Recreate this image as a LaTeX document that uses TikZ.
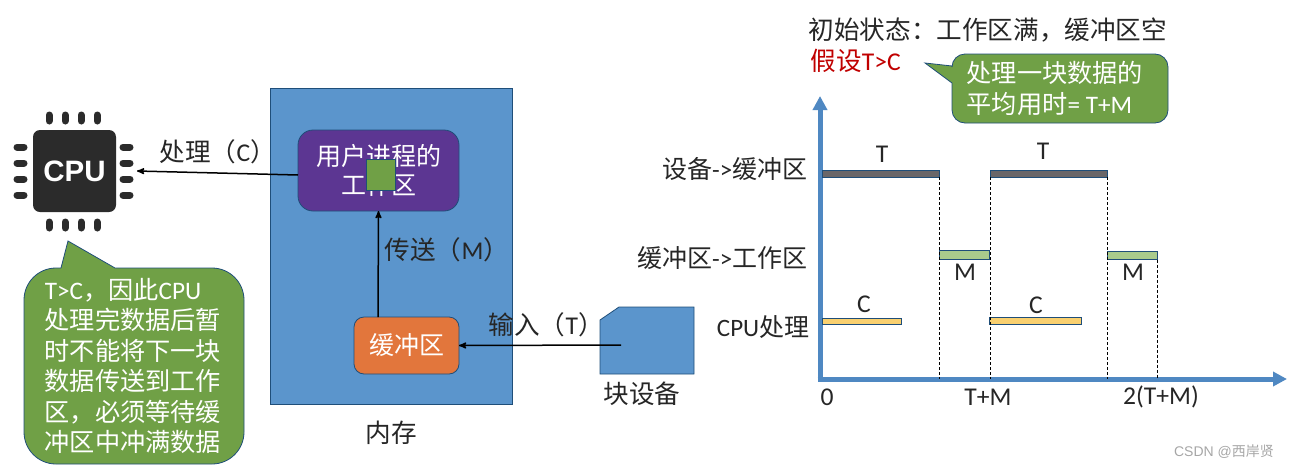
\documentclass[tikz,border=0pt]{standalone}
\usepackage{fontspec}
\setmainfont{Noto Sans CJK SC}
\newfontfamily\lat{Carlito}
\newfontfamily\chip[Scale=1]{Liberation Sans}
\usetikzlibrary{arrows,arrows.meta}

\definecolor{memblue}{HTML}{5B95CC}
\definecolor{edgeblue}{HTML}{1F4E79}
\definecolor{workpurple}{HTML}{5C3692}
\definecolor{bufforange}{HTML}{E2763C}
\definecolor{notegreen}{HTML}{70A046}
\definecolor{tgray}{HTML}{6A6668}
\definecolor{mgreen}{HTML}{A9CB8C}
\definecolor{cyellow}{HTML}{F9D06F}
\definecolor{chipdark}{HTML}{2B2B2B}
\definecolor{notered}{HTML}{C00000}
\definecolor{axisblue}{HTML}{4F88C2}

\tikzset{
	label25/.style={font=\fontsize{25.6}{30}\selectfont, text=black!85, inner sep=0pt},
	rowlabel/.style={font=\fontsize{25}{30}\selectfont, text=black!85, inner sep=0pt, anchor=east},
	block/.style={draw=edgeblue, line width=0.8pt, inner sep=0pt, outer sep=0pt},
	bar/.style={draw=edgeblue, line width=0.8pt, inner sep=0pt, outer sep=0pt},
	note/.style={draw=edgeblue, line width=0.8pt, fill=notegreen},
	notetext/.style={font=\fontsize{25.2}{30.5}\selectfont, text=white, align=left, inner sep=0pt},
	pin/.style={line width=7pt, line cap=round, color=chipdark},
	axis/.style={line width=5pt, color=axisblue, -{Triangle[width=14pt,length=14pt]}},
	guide/.style={densely dashed, line width=0.8pt}
}

\begin{document}
\begin{tikzpicture}[x=1pt, y=-1pt, >=stealth', line width=1.5pt]
	\useasboundingbox (0,0) rectangle (1289,469);

	% Nodes {memory, work, buffer, etc}
	\node [block, fill=memblue, minimum width=242, minimum height=316] 	(memory) 	at (391,246) 	{};
	\node [block, fill=workpurple, rounded corners=15, minimum width=161, minimum height=81, text=white, align=center,
		font=\fontsize{25}{29}\selectfont] 	(work) 	at (378.5,170.5) 	{用户进程的\\工作区};
	\node [block, fill=notegreen, minimum width=29, minimum height=31] 	(piece) 	at (380.5,174.5) 	{};
	\node [block, fill=bufforange, rounded corners=10, minimum width=105, minimum height=57, text=white,
		font=\fontsize{25}{30}\selectfont] 	(buffer) 	at (406.5,345.5) 	{缓冲区};
	\node [label25] 	(memlabel) 	at (391,433) 	{内存};

	% Block device
	\draw [block, fill=memblue] (600,320) -- (619,307) -- (694,307) -- (694,374) -- (600,374) -- cycle;
	\coordinate (device) at (621,345);
	\node [label25] 	(devlabel) 	at (642,394) 	{块设备};

	% CPU
	\node [fill=chipdark, rounded corners=7, minimum width=83, minimum height=82, inner sep=0pt, text=white,
		font=\fontsize{29.5}{30}\chip\bfseries] 	(cpu) 	at (74.5,171) 	{CPU};
	\foreach \x in {49,65,81,97} {
		\draw [pin] (\x,115) -- (\x,121);
		\draw [pin] (\x,222) -- (\x,228);
	}
	\foreach \y in {147,163,179,195} {
		\draw [pin] (17,\y) -- (24,\y);
		\draw [pin] (123,\y) -- (130,\y);
	}
	\coordinate (cpuin) at (137,171);

	% Paths
	\draw [->] 	(work.west |- 0,175) 	-- 	(cpuin);
	\draw [->] 	(buffer.north -| 378,0) 	-- 	(work.south);
	\draw [->] 	(device) 	-- 	(buffer.east);
	\node [label25, anchor=west] 	(clabel) 	at (159,152) 	{处理（{\lat C}）};
	\node [label25, anchor=west] 	(mlabel) 	at (384,250) 	{传送（{\lat M}）};
	\node [label25, anchor=west] 	(tlabel) 	at (488,325) 	{输入（{\lat T}）};

	% Left note
	\draw [note] (68,241) -- (115,268) [rounded corners=32] -- (244,268) -- (244,464) -- (24,464) -- (24,268) [sharp corners] -- (61,268) -- cycle;
	\node [notetext, anchor=west] 	(cpunote) 	at (44,366) 	{{\lat T>C}，因此{\lat CPU}\\处理完数据后暂\\时不能将下一块\\数据传送到工作\\区，必须等待缓\\冲区中冲满数据};

	% Title and top note
	\node [label25, anchor=west] 	(title) 	at (808,30) 	{初始状态：工作区满，缓冲区空};
	\node [label25, anchor=west, text=notered] 	(assume) 	at (810,61) 	{假设{\lat T>C}};
	\draw [note] (925,63) -- (952,66) [rounded corners=13] -- (952,54) -- (1168,54) -- (1168,123) -- (952,123) [sharp corners] -- (952,83) -- cycle;
	\node [notetext, anchor=west] 	(avgnote) 	at (966,88.5) 	{处理一块数据的\\平均用时{\lat = T+M}};

	% Axes
	\coordinate (origin) at (820,379);
	\coordinate (ytop) at (820,96);
	\coordinate (xend) at (1287,379);
	\draw [axis] 	(origin) 	-- 	(ytop);
	\draw [axis] 	(817.5,379) 	-- 	(xend);

	% Row labels
	\node [rowlabel] 	(row1) 	at (808,169) 	{设备{\lat ->}缓冲区};
	\node [rowlabel] 	(row2) 	at (808,258) 	{缓冲区{\lat ->}工作区};
	\node [rowlabel] 	(row3) 	at (810,327) 	{{\lat CPU}处理};

	% Bars
	\node [bar, fill=tgray, minimum width=117, minimum height=7] 	(t1) 	at (880.5,173.5) 	{};
	\node [bar, fill=tgray, minimum width=117, minimum height=7] 	(t2) 	at (1048.5,173.5) 	{};
	\node [bar, fill=mgreen, minimum width=50, minimum height=9] 	(m1) 	at (964,255) 	{};
	\node [bar, fill=mgreen, minimum width=50, minimum height=8] 	(m2) 	at (1132,255.5) 	{};
	\node [bar, fill=cyellow, minimum width=79, minimum height=6] 	(c1) 	at (861.5,321) 	{};
	\node [bar, fill=cyellow, minimum width=92, minimum height=7] 	(c2) 	at (1035,320.5) 	{};

	% Dashes
	\draw [guide] 	(t1.south east) 	-- 	(t1.south east |- origin);
	\draw [guide] 	(t2.south west) 	-- 	(t2.south west |- origin);
	\draw [guide] 	(t2.south east) 	-- 	(t2.south east |- origin);
	\draw [guide] 	(m2.south east) 	-- 	(m2.south east |- origin);

	% Bar and tick labels
	\node [label25] 	(tl1) 	at (882,154) 	{\lat T};
	\node [label25] 	(tl2) 	at (1043,151) 	{\lat T};
	\node [label25] 	(ml1) 	at (965,272) 	{\lat M};
	\node [label25] 	(ml2) 	at (1133,272) 	{\lat M};
	\node [label25] 	(cl1) 	at (864,304) 	{\lat C};
	\node [label25] 	(cl2) 	at (1036,305) 	{\lat C};
	\node [label25] 	(tick0) 	at (827,397) 	{\lat 0};
	\node [label25] 	(tick1) 	at (988,397) 	{\lat T+M};
	\node [label25] 	(tick2) 	at (1161,397) 	{\lat 2(T+M)};

	% Watermark
	\node [font=\fontsize{14}{14}\selectfont, text=black!35, inner sep=0pt] 	(mark) 	at (1224,452) 	{{\chip CSDN @}西岸贤};
\end{tikzpicture}
\end{document}
